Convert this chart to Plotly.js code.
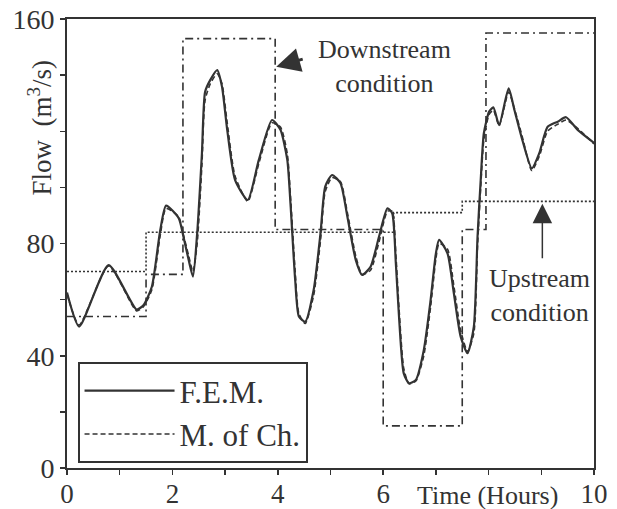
<!DOCTYPE html>
<html>
<head>
<meta charset="utf-8">
<script src="https://cdn.plot.ly/plotly-3.0.1.min.js"></script>
<style>html,body{margin:0;padding:0;background:#fff;}#chart{width:617px;height:509px;}</style>
</head>
<body>
<div id="chart"></div>
<script>
// Time (hours) sample points
const timeHours = [0,0.23,0.79,1.32,1.45,1.61,1.77,1.88,2.12,2.21,2.31,2.39,2.47,2.56,2.62,2.72,2.85,2.94,3.04,3.19,3.43,3.64,3.89,4.05,4.18,4.24,4.33,4.40,4.52,4.68,4.81,4.90,5.03,5.19,5.32,5.48,5.60,5.76,5.92,6.08,6.17,6.24,6.30,6.39,6.49,6.62,6.77,6.90,7.00,7.06,7.22,7.34,7.47,7.60,7.72,7.79,7.85,7.91,8.01,8.09,8.20,8.38,8.49,8.64,8.82,8.96,9.12,9.31,9.47,9.69,10];
// F.E.M. flow (m3/s)
const femFlow = [62.5,50.4,72.3,56.5,58,64.6,84.8,93.5,89,82.4,74,68.2,83.6,112,134,138.3,141.8,136,120.5,102.6,95.5,109.8,124,120.5,109.8,94.4,67,54,52.1,63.4,83.6,100.3,104.4,101.5,89.6,74.1,68.8,71.7,82.4,92.5,90.8,72.9,53.9,33.7,30.2,31.4,42,59.9,76.5,81.3,76.5,62.3,46.8,40.9,50.4,82.4,102.6,119.3,127,128.5,122.2,135.3,127.6,116.9,106.8,112.1,121.6,123.4,125,120.5,115.9];
// Method of characteristics flow (m3/s)
const mocFlow = [62,51,72,56,57.5,63.5,83,92.5,89.5,83,75.5,70,80,108,131,137,140.5,137,123,104,95,108.5,123,121.5,112,97,70,55,51.5,61.5,81,98.5,103.5,102,91,75.5,69,70.5,80.5,91.5,91.5,76,57,35.5,30,31,40,57.5,74.5,80,78,65,49,41.5,48,79,100,117,126,127.5,122,134,128,118,106,111,120,122.5,124,121,115.5];
// Upstream boundary condition (step starts)
const upTime = [0,1.5,6.2,7.5,10];
const upFlow = [70,84,91,95,95];
// Downstream boundary condition (step starts)
const downTime = [0,1.5,2.2,3.95,6,7.5,7.95,10];
const downFlow = [54,69,153,85,15,85,155,155];
// Tick labels
const xTickVals = [0,1,2,3,4,5,6,7,8,9,10];
const xTickText = ['0','','2','','4','','6','','','','10'];
const yTickVals = [0,20,40,60,80,100,120,140,160];
const yTickText = ['0','','40','','80','','','','160'];

const ink = '#333';
const serif = 'Liberation Serif, Times New Roman, serif';

const traces = [
  {x: upTime, y: upFlow, mode:'lines', line:{shape:'hv', color:ink, width:1.6, dash:'2px,2px'}, showlegend:false, hoverinfo:'skip'},
  {x: downTime, y: downFlow, mode:'lines', line:{shape:'hv', color:ink, width:1.6, dash:'8px,4px,2px,4px'}, showlegend:false, hoverinfo:'skip'},
  {x: timeHours, y: femFlow, mode:'lines', name:'F.E.M.', line:{shape:'spline', smoothing:0.6, color:ink, width:2.2}},
  {x: timeHours, y: mocFlow, mode:'lines', name:'M. of Ch.', line:{shape:'spline', smoothing:0.6, color:ink, width:1.6, dash:'5px,3px'}}
];

const layout = {
  width:617, height:509,
  margin:{l:67, r:23, t:19, b:41},
  paper_bgcolor:'#fff', plot_bgcolor:'#fff',
  font:{family:serif, color:ink, size:28},
  showlegend:true,
  legend:{x:0.02, y:0.236, xanchor:'left', yanchor:'top', bordercolor:ink, borderwidth:2, bgcolor:'#fff',
          font:{family:serif, size:31, color:ink}, itemwidth:90, tracegroupgap:0},
  xaxis:{range:[0,10], tickvals:xTickVals, ticktext:xTickText, ticks:'outside', ticklen:5, tickwidth:1.5, tickcolor:ink,
         showline:true, mirror:true, linecolor:ink, linewidth:2, showgrid:false, zeroline:false,
         ticklabelstandoff:-4, tickfont:{family:serif, size:27, color:ink}},
  yaxis:{range:[0,160], tickvals:yTickVals, ticktext:yTickText, ticks:'outside', ticklen:5, tickwidth:1.5, tickcolor:ink,
         showline:true, mirror:true, linecolor:ink, linewidth:2, showgrid:false, zeroline:false,
         tickfont:{family:serif, size:28, color:ink}},
  annotations:[
    {text:'Flow  (m<sup>3</sup>/s)', xref:'paper', yref:'y', x:-0.051, y:121, textangle:-90, showarrow:false,
     font:{family:serif, size:27, color:ink}, xanchor:'center', yanchor:'middle'},
    {text:'Time (Hours)', xref:'x', yref:'paper', x:7.97, y:-0.062, showarrow:false,
     font:{family:serif, size:26, color:ink}, xanchor:'center', yanchor:'middle'},
    {text:'Downstream<br>condition', xref:'x', yref:'y', x:6.02, y:143, showarrow:false,
     font:{family:serif, size:26, color:ink}, xanchor:'center', yanchor:'middle'},
    {text:'Upstream<br>condition', xref:'x', yref:'y', x:8.97, y:61.6, showarrow:false,
     font:{family:serif, size:26, color:ink}, xanchor:'center', yanchor:'middle'},
    {text:'', xref:'x', yref:'y', x:3.97, y:143, ax:28, ay:-8, showarrow:true, arrowhead:2, arrowsize:1.6, arrowwidth:3, arrowcolor:ink},
    {text:'', xref:'x', yref:'y', x:9.02, y:94.2, ax:0, ay:56, showarrow:true, arrowhead:2, arrowsize:2.6, arrowwidth:1.5, arrowcolor:ink}
  ]
};

Plotly.newPlot('chart', traces, layout, {displayModeBar:false, staticPlot:true});
</script>
</body>
</html>
